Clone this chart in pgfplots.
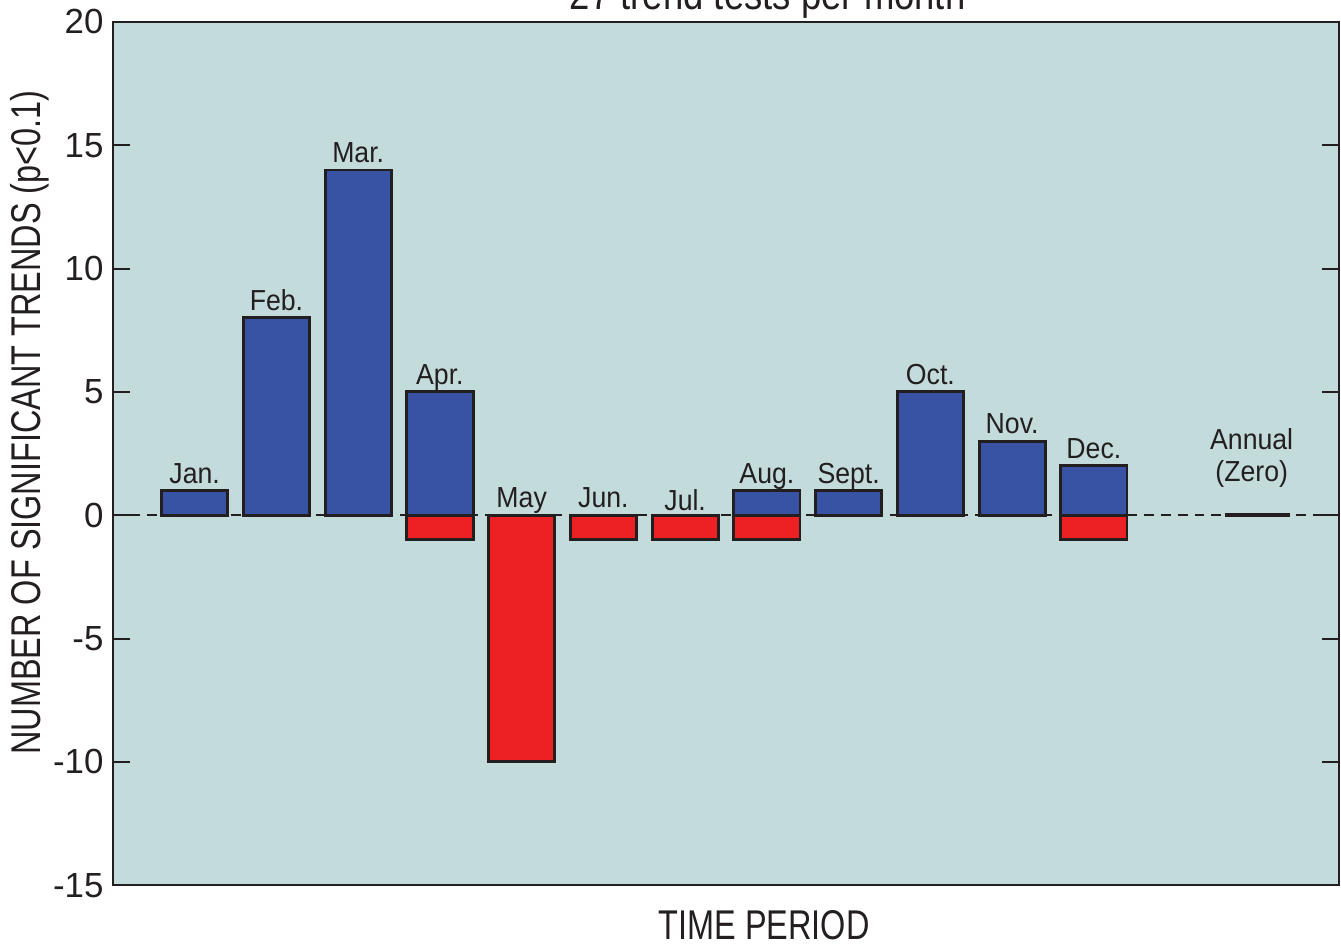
\documentclass[border=0pt]{standalone}
\usepackage{fontspec}
\setmainfont{Liberation Sans}
\newfontfamily\cond[FakeStretch=0.78]{Liberation Sans}
\newfontfamily\condlab[FakeStretch=0.92]{Liberation Sans}
\newfontfamily\condtitle[FakeStretch=0.85]{Liberation Sans}
\usepackage{pgfplots}
\pgfplotsset{compat=1.18}
\definecolor{bg}{RGB}{196,219,219}
\definecolor{barblue}{RGB}{57,83,164}
\definecolor{barred}{RGB}{237,32,36}
\definecolor{ink}{RGB}{35,31,32}
\begin{document}
\begin{tikzpicture}
\begin{axis}[
  scale only axis,
  width=457.1pt, height=321.8pt,
  xmin=0, xmax=15, ymin=-15, ymax=20,
  xtick=\empty,
  ytick={-15,-10,-5,0,5,10,15,20},
  yticklabels={-15,-10,-5,0,5,10,15,20},
  yticklabel style={font=\fontsize{13}{13}\selectfont, text=ink},
  tick style={ink, line width=0.75pt},
  major tick length=6.3pt,
  tick align=inside,
  axis line style={ink, line width=0.8pt},
  axis background/.style={fill=bg},
  clip=false,
  ylabel={NUMBER OF SIGNIFICANT TRENDS (p<0.1)},
  ylabel style={at={(axis description cs:-0.0678,0.536)}, anchor=center, font=\cond\fontsize{15.5}{15.5}\selectfont, text=ink},
  xlabel={TIME PERIOD},
  xlabel style={at={(axis description cs:0.531,-0.046)}, anchor=center, font=\cond\fontsize{15.5}{15.5}\selectfont, text=ink},
]
\coordinate (sw) at (rel axis cs:0,0);
\coordinate (ne) at (rel axis cs:1,1);
% negative trends
\addplot[ybar, bar width=0.81, bar shift=0pt, fill=barred, draw=ink, line width=1.1pt]
  coordinates {(4,-1) (5,-10) (6,-1) (7,-1) (8,-1) (12,-1)};
% positive trends
\addplot[ybar, bar width=0.81, bar shift=0pt, fill=barblue, draw=ink, line width=1.1pt]
  coordinates {(1,1) (2,8) (3,14) (4,5) (8,1) (9,1) (10,5) (11,3) (12,2)};
% annual (zero)
\addplot[ink, line width=1.5pt] coordinates {(13.6,0) (14.4,0)};
% zero line
\addplot[ink, line width=0.6pt, dash pattern=on 3.7pt off 2.6pt] coordinates {(0,0) (15,0)};
% labels
\begin{scope}[every node/.style={anchor=base, font=\condlab\fontsize{10.8}{10.8}\selectfont, text=ink, inner sep=0pt, yshift=2.8pt}]
\node at (axis cs:1,1) {Jan.};
\node at (axis cs:2,8) {Feb.};
\node at (axis cs:3,14) {Mar.};
\node at (axis cs:4,5) {Apr.};
\node at (axis cs:5,0) {May};
\node at (axis cs:6,0) {Jun.};
\node[yshift=-1.2pt] at (axis cs:7,0) {Jul.};
\node at (axis cs:8,1) {Aug.};
\node at (axis cs:9,1) {Sept.};
\node at (axis cs:10,5) {Oct.};
\node at (axis cs:11,3) {Nov.};
\node at (axis cs:12,2) {Dec.};
\node[yshift=21.6pt] at (axis cs:13.93,0) {Annual};
\node[yshift=9.7pt] at (axis cs:13.93,0) {(Zero)};
\end{scope}
\node[anchor=base, font=\condtitle\fontsize{16}{16}\selectfont, text=ink] at ([yshift=4.8pt]axis description cs:0.534,1) {27 trend tests per month};
\end{axis}
\pgfresetboundingbox
\useasboundingbox ([shift={(-42.1pt,-23.1pt)}]sw) rectangle ([shift={(0.7pt,8.2pt)}]ne);
\end{tikzpicture}
\end{document}
